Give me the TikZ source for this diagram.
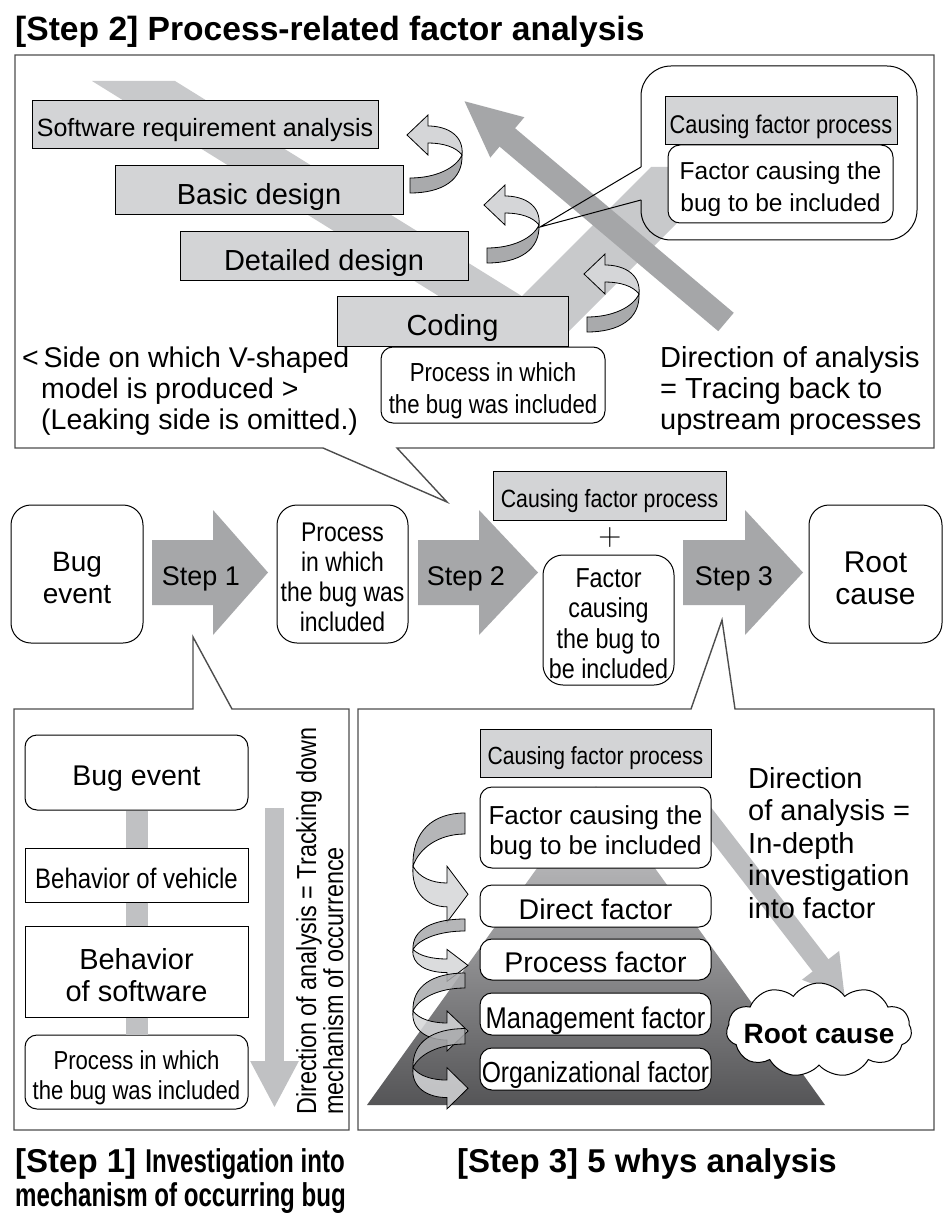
\documentclass[tikz,border=0pt]{standalone}
\usepackage{fontspec}
\setmainfont{Liberation Sans}
\newfontfamily\nar[FakeStretch=0.85]{Liberation Sans}
\newfontfamily\narb[FakeStretch=0.73]{Liberation Sans}
\newfontfamily\lmfont{Latin Modern Roman}
\usetikzlibrary{shapes.symbols,arrows.meta}
\newcommand\fsz[2]{\fontsize{#1}{#2}\selectfont}
\newcommand\ts{\rule{0pt}{1.15em}}
\newcommand\tb{\rule[-0.21em]{0pt}{0.21em}}
\definecolor{boxgray}{HTML}{D3D4D6}
\definecolor{arrgray}{HTML}{A6A7A9}
\definecolor{bandgray}{HTML}{C8C9CB}
\definecolor{bigarr}{HTML}{A5A6A8}
\definecolor{bargray}{HTML}{C0C1C3}
\definecolor{ltarr}{HTML}{BCBDBF}
\definecolor{curld}{HTML}{A9AAAC}
\definecolor{curll}{HTML}{D5D6D8}
\definecolor{pyrtop}{HTML}{D2D2D4}
\definecolor{pyrbot}{HTML}{555557}
\definecolor{framec}{HTML}{4D4D4D}
\begin{document}
\begin{tikzpicture}[x=1pt,y=-1pt,
  frm/.style={draw=framec, line width=1.4},
  gbox/.style={draw=black, line width=1, fill=boxgray, inner sep=0, align=center},
  wbox/.style={draw=black, line width=1, fill=white, inner sep=0, align=center, rounded corners=#1},
  wbox/.default=12,
  rbox/.style={draw=black, line width=1, fill=white, inner sep=0, align=center},
  lbl/.style={anchor=base west, inner sep=0},
  curl/.pic={
    \filldraw[fill=curld, draw=black, line width=0.8] (0,0) -- (0,15) .. controls (32,15) and (53,2) .. (52,-23) .. controls (46,-10) and (26,0) .. (0,0) -- cycle;
    \filldraw[fill=curll, draw=black, line width=0.8] (52,-23) .. controls (54,-42) and (38,-52) .. (18,-52) -- (18,-63) -- (-3,-43) -- (18,-23) -- (18,-35) .. controls (33,-35) and (46,-31) .. (52,-23) -- cycle;
  }
]
\useasboundingbox (0,0) rectangle (950,1230);
\fill[white] (0,0) rectangle (950,1230);

% ---------- Step 2 ----------
\node[lbl, font=\bfseries\fsz{33.6}{36}] (t2) at (15,41) {[Step 2] Process-related factor analysis};
\draw[frm] (397,448) -- (934,448) -- (934,55) -- (15,55) -- (15,448) -- (323,448) -- (447,502) -- cycle;

\fill[bandgray] (92,81) -- (175,81) -- (521.9,296.1) -- (651,167) -- (733,167) -- (540.7,359.3) -- cycle;
\coordinate (bigT) at (726,322);
\coordinate (bigP) at (463,100);
\draw[bigarr, line width=24, -{Triangle[width=48,length=58]}] (bigT) -- (bigP);

\node[gbox, minimum width=346, minimum height=48, font=\fsz{25}{28}] (sra) at (205,125) {\ts\tb Software requirement analysis};
\node[gbox, minimum width=288, minimum height=49, font=\fsz{29}{32}] (bd) at (259,190.5) {\ts\tb Basic design};
\node[gbox, minimum width=288, minimum height=49, font=\fsz{29}{32}] (dd) at (324,256.5) {\ts\tb Detailed design};
\node[gbox, minimum width=231, minimum height=49, font=\fsz{29}{32}] (cod) at (452.5,321.5) {\ts\tb Coding};
\node[wbox, minimum width=224, minimum height=76, font=\nar\fsz{26.1}{31.5}] (pib) at (493,385) {\ts Process in which\\the bug was included\tb};

\pic at (410,178) {curl};
\pic at (487,248) {curl};
\pic at (587,317) {curl};

\coordinate (ctip) at (540,227);
\draw[line width=1, rounded corners=30] (641,167) -- (641,66) -- (917,66) -- (917,240) -- (641,240) -- (641,200);
\draw[line width=1] (641,167) -- (ctip) -- (641,200);
\node[gbox, minimum width=232, minimum height=48, font=\nar\fsz{25.6}{28}] (ccfp) at (781,121) {\ts\tb Causing factor process};
\node[wbox, minimum width=225, minimum height=78, font=\fsz{24.5}{32}] (cfac) at (780.5,184) {\ts Factor causing the\\bug to be included\tb};

\node[lbl, font=\fsz{28.5}{31}] (l1) at (22,367) {<\,Side on which V-shaped};
\node[lbl, font=\fsz{28.5}{31}] (l2) at (41,398) {model is produced >};
\node[lbl, font=\fsz{28.5}{31}] (l3) at (41,429) {(Leaking side is omitted.)};
\node[lbl, font=\fsz{29}{31}] (r1) at (660,367) {Direction of analysis};
\node[lbl, font=\fsz{29}{31}] (r2) at (660,398) {= Tracing back to};
\node[lbl, font=\fsz{29}{31}] (r3) at (660,429) {upstream processes};

% ---------- middle row ----------
\node[wbox=20, minimum width=132, minimum height=138, font=\fsz{28}{32}] (mbug) at (77,574) {\ts Bug\\event\tb};
\fill[arrgray] (152,540) -- (213,540) -- (213,510) -- (268,572.5) -- (213,635) -- (213,605) -- (152,605) -- cycle;
\node[font=\fsz{27}{30}, inner sep=0] (st1) at (201,573) {\ts\tb Step 1};
\node[wbox=20, minimum width=131, minimum height=138, font=\nar\fsz{27}{30}] (mproc) at (342.5,574) {\ts Process\\in which\\the bug was\\included\tb};
\fill[arrgray] (418,540) -- (479,540) -- (479,510) -- (538,572.5) -- (479,635) -- (479,605) -- (418,605) -- cycle;
\node[font=\fsz{27}{30}, inner sep=0] (st2) at (466,573) {\ts\tb Step 2};
\node[gbox, minimum width=233, minimum height=49, font=\nar\fsz{25}{28}] (mcfp) at (609.5,495.5) {\ts\tb Causing factor process};
\node[font=\lmfont\fsz{32}{32}, inner sep=0] (plus) at (610,538) {+};
\node[wbox=20, minimum width=131, minimum height=130, font=\nar\fsz{27.4}{30.5}] (mfac) at (608.5,620) {\ts Factor\\causing\\the bug to\\be included\tb};
\fill[arrgray] (683,540) -- (745,540) -- (745,510) -- (803,572.5) -- (745,635) -- (745,605) -- (683,605) -- cycle;
\node[font=\fsz{27}{30}, inner sep=0] (st3) at (734,573) {\ts\tb Step 3};
\node[wbox=20, minimum width=133, minimum height=138, font=\fsz{30}{32}] (mroot) at (875.5,574) {\ts Root\\cause\tb};

% ---------- Step 1 ----------
\draw[frm] (232,709) -- (349,709) -- (349,1130) -- (14,1130) -- (14,709) -- (193,709) -- (193,637) -- cycle;
\node[wbox, minimum width=223, minimum height=75, font=\fsz{28.5}{32}] (s1bug) at (136.5,772.5) {\ts\tb Bug event};
\node[rbox, minimum width=223, minimum height=54, font=\nar\fsz{28.2}{32}] (s1veh) at (136.5,875) {\ts\tb Behavior of vehicle};
\node[rbox, minimum width=223, minimum height=91, font=\fsz{29}{32}] (s1sw) at (136.5,971.5) {\ts Behavior\\of software\tb};
\node[wbox, minimum width=223, minimum height=74, font=\nar\fsz{26}{30}] (s1proc) at (136.5,1072) {\ts Process in which\\the bug was included\tb};
\draw[bargray, line width=22] (s1bug.south) -- (s1veh.north);
\draw[bargray, line width=22] (s1veh.south) -- (s1sw.north);
\draw[bargray, line width=22] (s1sw.south) -- (s1proc.north);
\coordinate (da1) at (274.5,808);
\coordinate (da2) at (274.5,1108);
\draw[bargray, line width=19, -{Triangle[width=45,length=47]}] (da1) -- (da2);
\node[rotate=90, anchor=north west, align=left, inner sep=0, font=\nar\fsz{27.5}{27}] (s1dir) at (296,1115) {Direction of analysis = Tracking down\\mechanism of occurrence};

% ---------- Step 3 ----------
\draw[frm] (735,709) -- (934,709) -- (934,1130) -- (358,1130) -- (358,709) -- (691,709) -- (722,620) -- cycle;
\shade[top color=pyrtop, bottom color=pyrbot] (596,786) -- (825,1105) -- (367,1105) -- cycle;
\coordinate (la1) at (702,812);
\coordinate (la2) at (845,997);
\draw[ltarr, line width=20, -{Triangle[width=44,length=40]}] (la1) -- (la2);
\node[gbox, minimum width=231, minimum height=48, font=\nar\fsz{24.8}{28}] (s3cfp) at (595.5,753) {\ts\tb Causing factor process};
\node[wbox, minimum width=231, minimum height=81, font=\fsz{26}{30}] (s3fac) at (595.5,827.5) {\ts Factor causing the\\bug to be included\tb};
\node[wbox, minimum width=231, minimum height=42, font=\fsz{28.5}{30}] (s3dir) at (595.5,906) {\ts\tb Direct factor};
\node[wbox, minimum width=231, minimum height=41, font=\fsz{28.5}{30}] (s3pro) at (595.5,959.5) {\ts\tb Process factor};
\node[wbox, minimum width=231, minimum height=42, font=\nar\fsz{30}{30}] (s3man) at (595.5,1014) {\ts\tb Management factor};
\node[wbox, minimum width=231, minimum height=42, font=\nar\fsz{29}{30}] (s3org) at (595.5,1069) {\ts\tb Organizational factor};
\pic[xscale=-1, yscale=-1.4, fill opacity=0.85] at (465,834) {curl};
\pic[xscale=-1, yscale=-0.8, fill opacity=0.85] at (465,931) {curl};
\pic[xscale=-1, yscale=-1.0, fill opacity=0.85] at (465,988) {curl};
\pic[xscale=-1, yscale=-1.03, fill opacity=0.85] at (465,1044) {curl};
\node[cloud, draw=black, line width=1, fill=white, cloud puffs=11, cloud puff arc=110, aspect=2.6, inner xsep=-11, inner ysep=0, font=\bfseries\fsz{28}{30}] (rc) at (819,1030) {\ts\tb Root cause};
\node[lbl, font=\fsz{29}{31}] (d1) at (748,788) {Direction};
\node[lbl, font=\fsz{29}{31}] (d2) at (748,820.5) {of analysis =};
\node[lbl, font=\fsz{29}{31}] (d3) at (748,853) {In-depth};
\node[lbl, font=\fsz{29}{31}] (d4) at (748,885.5) {investigation};
\node[lbl, font=\fsz{29}{31}] (d5) at (748,918) {into factor};

% ---------- bottom titles ----------
\node[lbl, font=\bfseries\fsz{33}{36}] (t1a) at (15,1172) {[Step 1] {\narb Investigation into}};
\node[lbl, font=\narb\bfseries\fsz{33}{36}] (t1b) at (15,1206) {mechanism of occurring bug};
\node[lbl, font=\bfseries\fsz{33}{36}] (t3) at (457,1172) {[Step 3] 5 whys analysis};
\end{tikzpicture}
\end{document}
